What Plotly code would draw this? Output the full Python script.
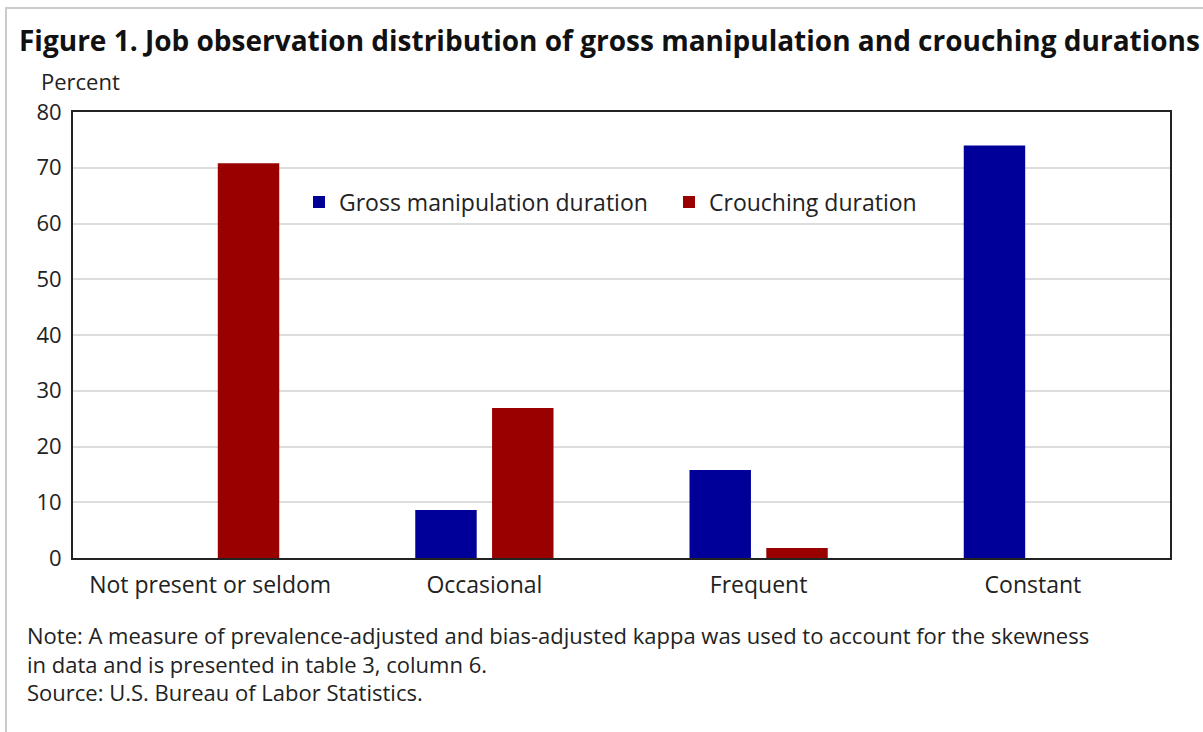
import plotly.graph_objects as go

categories = ["Not present or seldom", "Occasional", "Frequent", "Constant"]
gross_manipulation = [0, 8.6, 15.8, 74]
crouching = [70.8, 26.9, 1.8, 0]
y_ticks = [0, 10, 20, 30, 40, 50, 60, 70, 80]

W, H = 1203, 732
L, R, T, B = 73, 33, 112, 174
pw, ph = W - L - R, H - T - B

def px(x):
    return (x - L) / pw

def py(y):
    return (H - B - y) / ph

FONT = "Open Sans"

fig = go.Figure()
fig.add_trace(go.Bar(x=categories, y=gross_manipulation, name="Gross manipulation duration",
                     marker=dict(color="#000099", line=dict(width=0))))
fig.add_trace(go.Bar(x=categories, y=crouching, name="Crouching duration",
                     marker=dict(color="#990000", line=dict(width=0))))

fig.update_layout(
    width=W, height=H,
    margin=dict(l=L, r=R, t=T, b=B, autoexpand=False),
    paper_bgcolor="white", plot_bgcolor="white",
    barmode="group", bargap=0.44, bargroupgap=0.2,
    font=dict(family=FONT, size=23, color="#222222"),
    showlegend=True,
    legend=dict(orientation="h", x=px(299), y=py(202), xanchor="left", yanchor="middle",
                font=dict(family=FONT, size=23, color="#222222"), bgcolor="rgba(0,0,0,0)",
                itemwidth=30, traceorder="normal", entrywidth=325, entrywidthmode="pixels"),
    xaxis=dict(showline=True, linecolor="#222222", linewidth=2, mirror=True,
               ticks="", showgrid=False, tickfont=dict(size=23), fixedrange=True,
               ticklabelstandoff=5),
    yaxis=dict(range=[0, 80], tickvals=y_ticks, showline=True, linecolor="#222222", linewidth=2,
               mirror=True, showgrid=True, gridcolor="#dddddd", gridwidth=2, ticks="",
               tickfont=dict(size=22), zeroline=False, fixedrange=True, ticklabelstandoff=5),
)

fig.add_annotation(text="<b>Figure 1. Job observation distribution of gross manipulation and crouching durations</b>",
                   xref="paper", yref="paper", x=px(17), y=py(40), xanchor="left", yanchor="middle",
                   showarrow=False, font=dict(family=FONT, size=28, color="#111111"))
fig.add_annotation(text="Percent", xref="paper", yref="paper", x=px(39), y=py(81),
                   xanchor="left", yanchor="middle", showarrow=False,
                   font=dict(family=FONT, size=22, color="#222222"))
notes = [
    "Note: A measure of prevalence-adjusted and bias-adjusted kappa was used to account for the skewness",
    "in data and is presented in table 3, column 6.",
    "Source: U.S. Bureau of Labor Statistics.",
]
fig.add_annotation(text="<br>".join(notes), xref="paper", yref="paper", x=px(25), y=py(663.5),
                   xanchor="left", yanchor="middle", align="left", showarrow=False,
                   font=dict(family=FONT, size=22, color="#222222"))

fig.add_shape(type="rect", xref="paper", yref="paper", x0=px(6), x1=px(1215), y0=py(8), y1=py(745),
              line=dict(color="#cccccc", width=2), fillcolor="rgba(0,0,0,0)", layer="below")

fig.write_html("out.html", config={"displayModeBar": False},
               post_script="document.body.style.margin='0';document.body.style.overflow='hidden';")
